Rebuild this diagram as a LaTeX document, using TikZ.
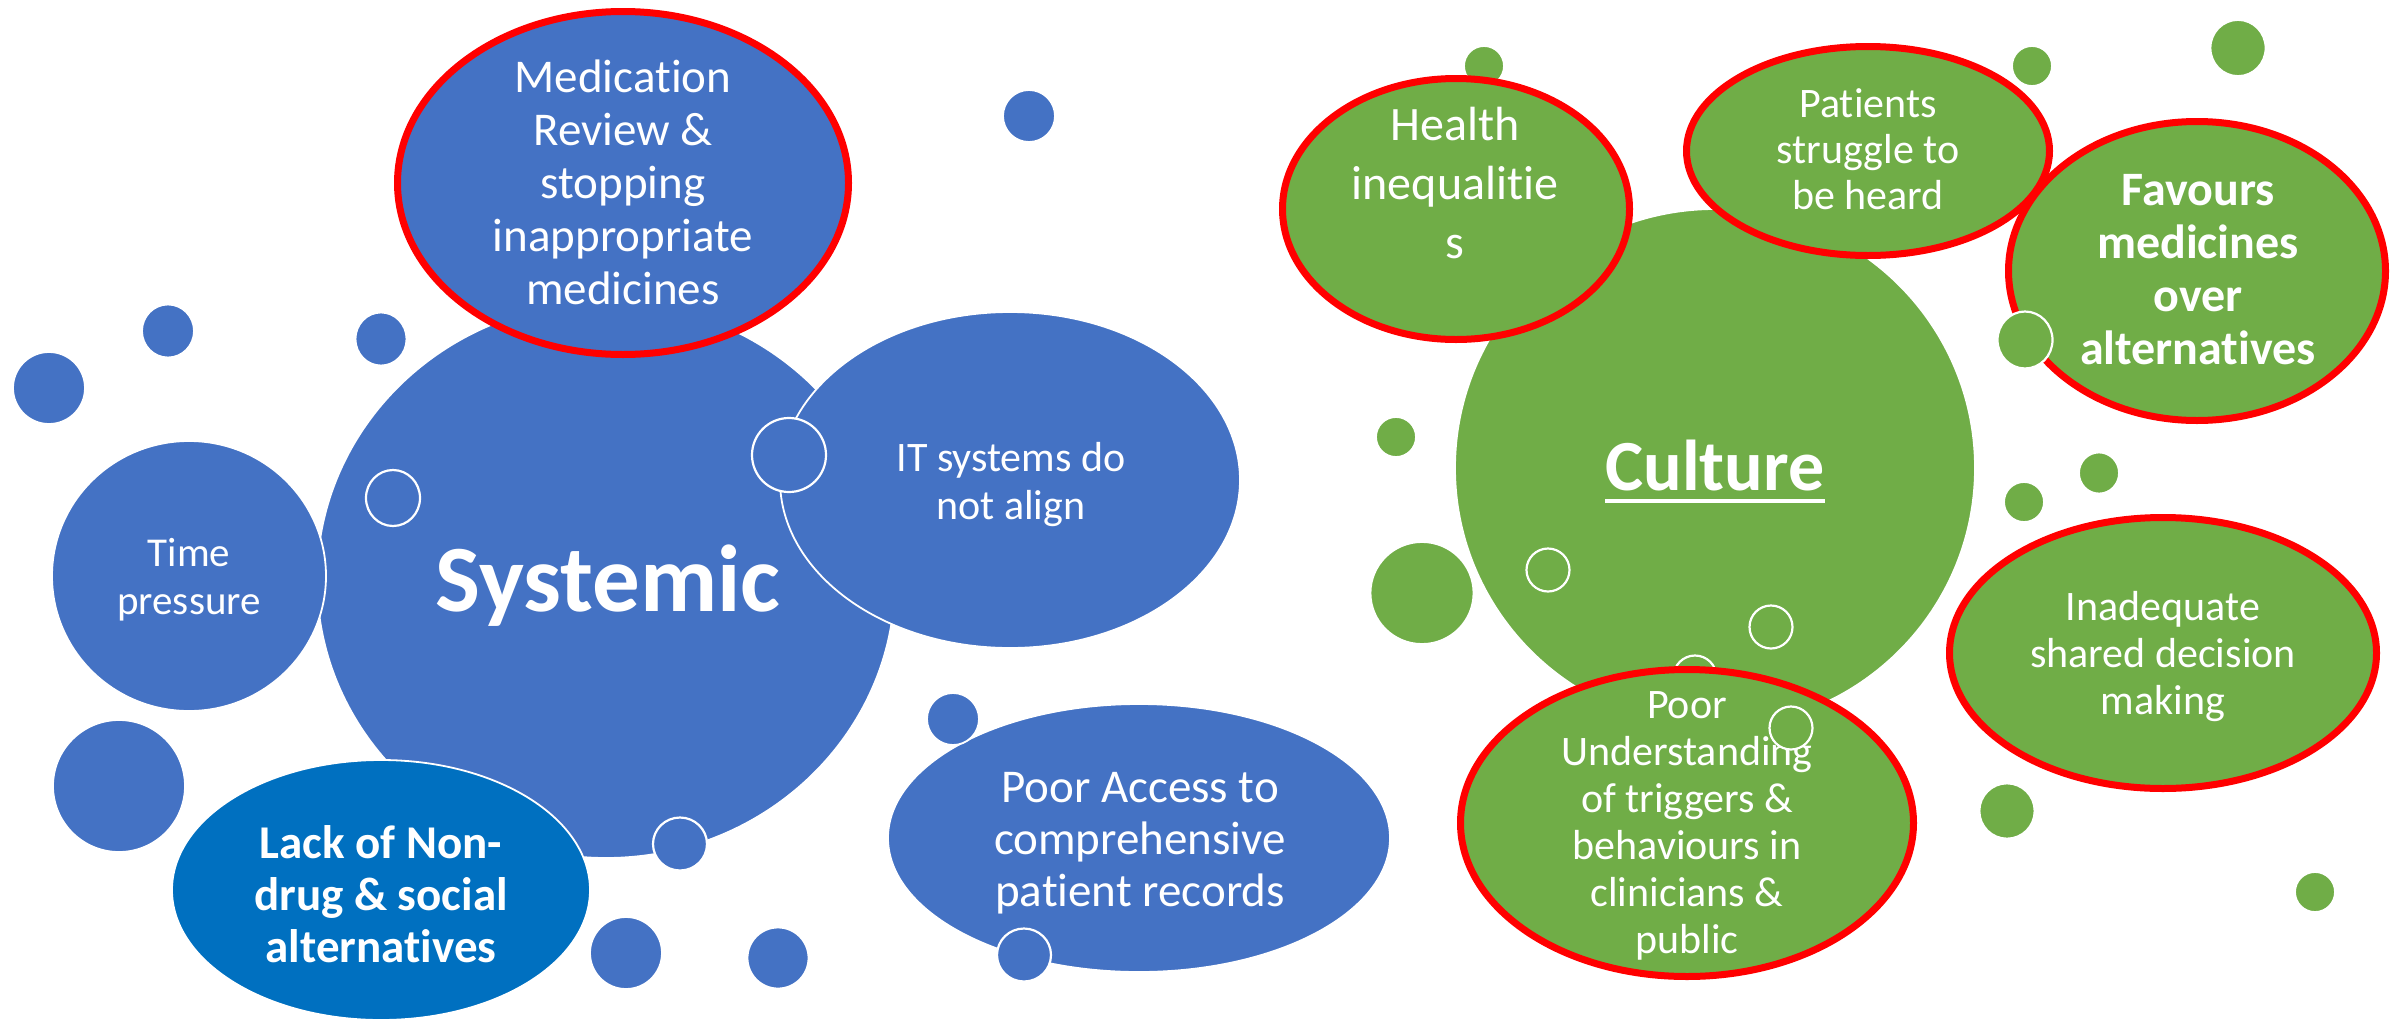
\documentclass[tikz,border=0pt]{standalone}
\usepackage{fontspec}
\setmainfont{Carlito}[Ligatures={NoCommon}]
\usetikzlibrary{shapes.geometric}
\definecolor{sysblue}{HTML}{4472C4}
\definecolor{deepblue}{HTML}{0070C0}
\definecolor{culgreen}{HTML}{70AD47}
\definecolor{alertred}{HTML}{FF0000}
\newcommand\setfs[2]{\fontsize{#1}{#2}\selectfont}
\tikzset{
  bubble/.style={ellipse, inner sep=0pt, outer sep=0pt, draw=white, line width=1.8pt},
  keyissue/.style={bubble, draw=alertred, line width=7pt},
  dims/.style 2 args={minimum width=#1pt, minimum height=#2pt},
  ring/.style={bubble, line width=2.2pt},
  txt/.style={text=white, align=center, inner sep=0pt}
}
\begin{document}
\begin{tikzpicture}[x=1pt,y=-1pt]
\path[use as bounding box, fill=white] (0,0) rectangle (2394,1031);

% ---------- Systemic cluster ----------
\node[bubble, fill=sysblue, dims={52}{52}] (bd1) at (1029,116) {};
\node[bubble, fill=sysblue, dims={52}{53}] (bd2) at (168,331) {};
\node[bubble, fill=sysblue, dims={51}{53}] (bd3) at (381,339) {};
\node[bubble, fill=sysblue, dims={72}{72}] (bd4) at (49,388) {};
\node[bubble, fill=sysblue, dims={132}{132}] (bd5) at (119,786) {};
\node[bubble, fill=sysblue, dims={72}{72}] (bd6) at (626,953) {};
\node[bubble, fill=sysblue, dims={61}{61}] (bd7) at (778,958) {};

\node[bubble, fill=sysblue, dims={578}{556}] (sys) at (606,580) {};
\node[txt, anchor=base, font=\setfs{95}{100}\bfseries] (sys-t) at (608,611) {Systemic};

\node[bubble, fill=sysblue, dims={274}{270}] (time) at (189,576) {};
\node[txt, font=\setfs{41}{48}] (time-t) at (189,580) {Time\\pressure};

\node[keyissue, fill=sysblue, dims={451}{343}] (med) at (623,183) {};
\node[txt, font=\setfs{47}{53}] (med-t) at (623,182) {Medication\\Review \&\\stopping\\inappropriate\\medicines};

\node[bubble, fill=sysblue, dims={460}{336}] (it) at (1010,480) {};
\node[txt, font=\setfs{42}{48}] (it-t) at (1011,485) {IT systems do\\not align};

\node[bubble, fill=deepblue, dims={418}{260}] (lack) at (381,890) {};
\node[txt, font=\setfs{47}{52}\bfseries] (lack-t) at (381,894) {Lack of Non-\\drug \& social\\alternatives};

\node[bubble, fill=sysblue, dims={502}{268}] (access) at (1139,838) {};
\node[txt, font=\setfs{47}{52}] (access-t) at (1140,843) {Poor Access to\\comprehensive\\patient records};

\node[bubble, fill=sysblue, dims={52}{52}] (bd8) at (953,719) {};

\node[ring, fill=sysblue, dims={54}{56}] (br1) at (393,498) {};
\node[ring, fill=sysblue, dims={74}{74}] (br2) at (789,455) {};
\node[ring, fill=sysblue, dims={54}{53}] (br3) at (680,844) {};
\node[ring, fill=sysblue, dims={54}{53}] (br4) at (1024,955) {};

% ---------- Culture cluster ----------
\node[bubble, fill=culgreen, dims={40}{40}] (gd1) at (1484,66) {};
\node[bubble, fill=culgreen, dims={40}{40}] (gd2) at (2032,66) {};
\node[bubble, fill=culgreen, dims={55}{56}] (gd3) at (2238,48) {};
\node[bubble, fill=culgreen, dims={40}{40}] (gd4) at (1396,437) {};
\node[bubble, fill=culgreen, dims={103}{102}] (gd5) at (1422,593) {};
\node[bubble, fill=culgreen, dims={40}{41}] (gd6) at (2099,473) {};
\node[bubble, fill=culgreen, dims={40}{40}] (gd7) at (2024,502) {};
\node[bubble, fill=culgreen, dims={55}{55}] (gd8) at (2007,811) {};
\node[bubble, fill=culgreen, dims={40}{40}] (gd9) at (2315,892) {};

\node[bubble, fill=culgreen, dims={520}{518}] (cult) at (1715,468) {};
\node[txt, anchor=base, font=\setfs{72}{80}\bfseries] (cult-t) at (1715,490) {Culture};
\draw[white, line width=3.5pt] ([yshift=-11pt]cult-t.base west) -- ([yshift=-11pt]cult-t.base east);

\node[ring, fill=culgreen, dims={43}{43}] (gr1) at (1548,570) {};
\node[ring, fill=culgreen, dims={43}{43}] (gr2) at (1771,627) {};
\node[ring, fill=culgreen, dims={43}{43}] (gr3) at (1695,677) {};

\node[keyissue, fill=culgreen, dims={347}{261}] (health) at (1456,209) {};
\node[txt, font=\setfs{48}{59}] (health-t) at (1455,183) {Health\\inequalitie\\s};

\node[keyissue, fill=culgreen, dims={377}{299}] (fav) at (2197,271) {};
\node[txt, font=\setfs{48}{53}\bfseries] (fav-t) at (2198,270) {Favours\\medicines\\over\\alternatives};

\node[keyissue, fill=culgreen, dims={363}{209}] (heard) at (1868,151) {};
\node[txt, font=\setfs{42}{46}] (heard-t) at (1868,149) {Patients\\struggle to\\be heard};

\node[keyissue, fill=culgreen, dims={427}{271}] (sdm) at (2163,653) {};
\node[txt, font=\setfs{42}{47}] (sdm-t) at (2163,657) {Inadequate\\shared decision\\making};

\node[keyissue, fill=culgreen, dims={453}{307}] (under) at (1687,823) {};
\node[txt, font=\setfs{42}{47}] (under-t) at (1687,826) {Poor\\Understanding\\of triggers \&\\behaviours in\\clinicians \&\\public};

\node[ring, fill=culgreen, dims={43}{43}] (gr4) at (1791,728) {};
\node[ring, fill=culgreen, dims={55}{57}] (gd10) at (2025,340) {};
\end{tikzpicture}
\end{document}
